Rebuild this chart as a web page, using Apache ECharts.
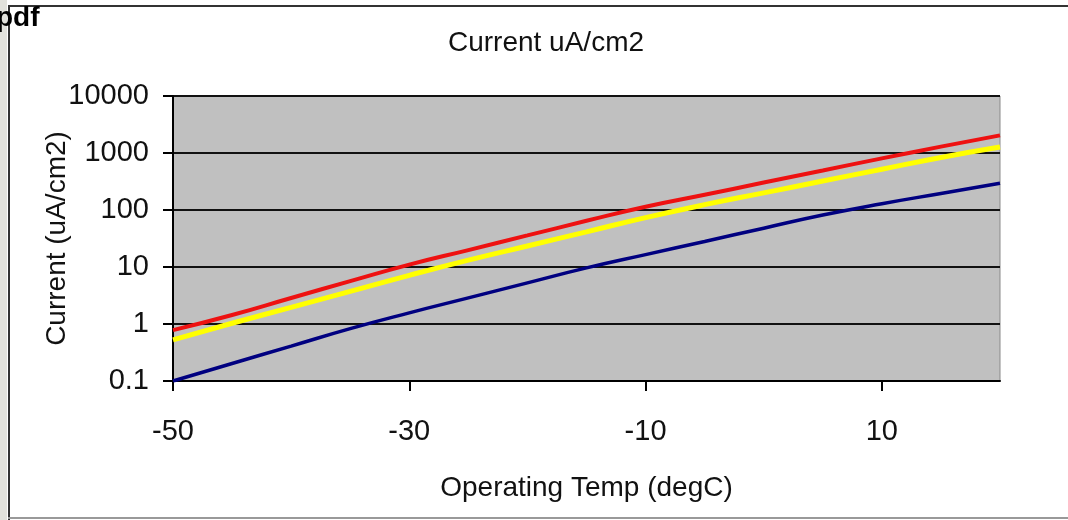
<!DOCTYPE html>
<html>
<head>
<meta charset="utf-8">
<script src="https://cdn.jsdelivr.net/npm/echarts@6/dist/echarts.min.js"></script>
<style>html,body{margin:0;padding:0;background:#fff;}#c{width:1068px;height:520px;}</style>
</head>
<body>
<div id="c"></div>
<script>
const temps = [-50, -45, -40, -35, -30, -25, -20, -15, -10, -5, 0, 5, 10, 15, 20];
const redValues = [0.78, 1.44, 2.86, 5.64, 11.0, 19.8, 35.8, 64.6, 114, 185, 303, 494, 806, 1292, 2040];
const yellowValues = [0.525, 1.03, 1.96, 3.74, 7.15, 13.2, 23.4, 41.4, 73.5, 124, 200, 322, 519, 835, 1274];
const blueValues = [0.1, 0.203, 0.41, 0.83, 1.57, 2.87, 5.26, 9.64, 16.5, 28.1, 48, 81.6, 129, 195, 295];
const xTickValues = [-50, -30, -10, 10];
const yTickLabels = ['0.1', '1', '10', '100', '1000', '10000'];

const pairs = vals => temps.map((t, i) => [t, vals[i]]);
const font = "Liberation Sans, Arial, sans-serif";

const chart = echarts.init(document.getElementById('c'));
chart.setOption({
  backgroundColor: '#ffffff',
  animation: false,
  title: {
    text: 'Current uA/cm2',
    left: 541, top: 24, textAlign: 'center',
    textStyle: { fontFamily: font, fontSize: 28, fontWeight: 'normal', color: '#111' }
  },
  graphic: [
    { type: 'rect', shape: { x: 0, y: 0, width: 7, height: 520 }, style: { fill: '#e2e2dc' }, silent: true },
    { type: 'line', shape: { x1: 9, y1: 6, x2: 9, y2: 520 }, style: { stroke: '#333', lineWidth: 2 }, silent: true },
    { type: 'line', shape: { x1: 8, y1: 6, x2: 1068, y2: 6 }, style: { stroke: '#333', lineWidth: 2 }, silent: true },
    { type: 'line', shape: { x1: 8, y1: 518, x2: 1068, y2: 518 }, style: { stroke: '#999', lineWidth: 2 }, silent: true },
    { type: 'text', left: -4, top: 4, style: { text: 'pdf', font: 'bold 28px ' + font, fill: '#000' }, silent: true }
  ],
  grid: {
    left: 173, top: 96, width: 827, height: 285,
    show: true, backgroundColor: '#c0c0c0', borderColor: '#8a8a8a', borderWidth: 1
  },
  xAxis: {
    type: 'value', min: -50, max: 20,
    name: 'Operating Temp (degC)', nameLocation: 'middle', nameGap: 93, nameMoveOverlap: false,
    nameTextStyle: { fontFamily: font, fontSize: 28, color: '#111' },
    axisLine: { show: true, onZero: false, lineStyle: { color: '#000', width: 2 } },
    axisTick: { show: true, customValues: xTickValues, length: 10, lineStyle: { color: '#000', width: 2 } },
    axisLabel: { customValues: xTickValues, margin: 36, fontFamily: font, fontSize: 29, color: '#111' },
    splitLine: { show: false }
  },
  yAxis: {
    type: 'log', logBase: 10, min: 0.1, max: 10000,
    name: 'Current (uA/cm2)', nameLocation: 'middle', nameGap: 102, nameMoveOverlap: false,
    nameTextStyle: { fontFamily: font, fontSize: 28, color: '#111' },
    axisLine: { show: true, onZero: false, lineStyle: { color: '#000', width: 2 } },
    axisTick: { show: true, inside: false, length: 10, lineStyle: { color: '#000', width: 2 } },
    axisLabel: {
      margin: 24, fontFamily: font, fontSize: 29, color: '#111',
      formatter: v => { const k = Math.round(Math.log10(v)) + 1; return yTickLabels[k] !== undefined ? yTickLabels[k] : ''; }
    },
    splitLine: { show: true, lineStyle: { color: '#111', width: 2 } }
  },
  series: [
    { type: 'line', data: pairs(blueValues), smooth: true, showSymbol: false, lineStyle: { color: '#000080', width: 3.5 } },
    { type: 'line', data: pairs(redValues), smooth: true, showSymbol: false, lineStyle: { color: '#ee1111', width: 4 } },
    { type: 'line', data: pairs(yellowValues), smooth: true, showSymbol: false, lineStyle: { color: '#ffff00', width: 5 } }
  ]
});
</script>
</body>
</html>
